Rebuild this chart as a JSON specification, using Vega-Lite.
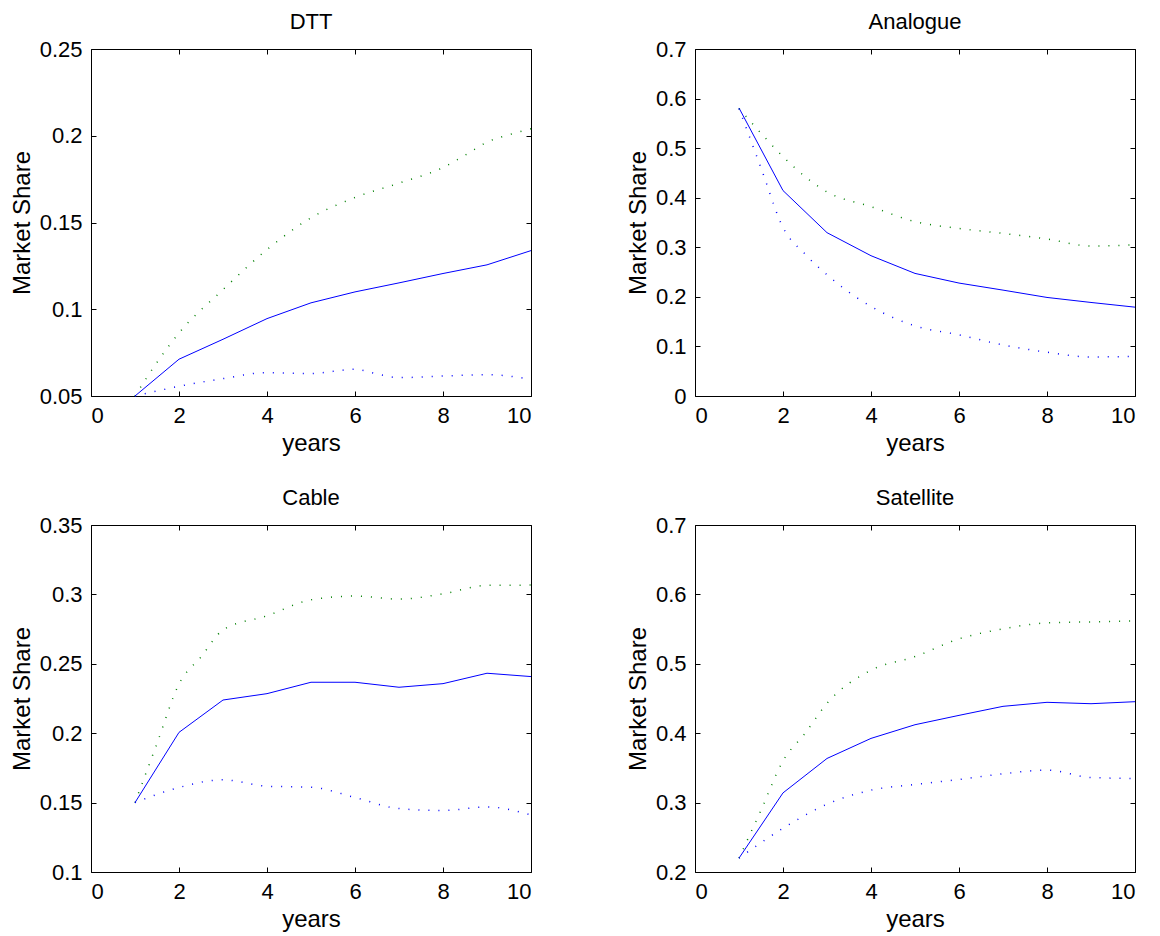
{
  "$schema": "https://vega.github.io/schema/vega-lite/v6.json",
  "padding": {"left": 9, "top": 10, "right": 5, "bottom": 5},
  "background": "white",
  "config": {
    "view": {"stroke": "black", "strokeWidth": 1},
    "axis": {"domain": false, "grid": false, "tickColor": "black", "tickSize": -5, "labelPadding": 14, "labelFontSize": 22, "titleFontSize": 24, "labelFont": "Liberation Sans", "titleFont": "Liberation Sans", "labelColor": "black", "titleColor": "black", "titleFontWeight": "normal", "titlePadding": 5},
    "title": {"fontSize": 22, "font": "Liberation Sans", "fontWeight": "normal", "color": "black", "offset": 4}
  },
  "data": {"values": [
    {"panel": "DTT", "series": "mean", "year": 1, "share": 0.05},
    {"panel": "DTT", "series": "mean", "year": 2, "share": 0.0712},
    {"panel": "DTT", "series": "mean", "year": 3, "share": 0.0827},
    {"panel": "DTT", "series": "mean", "year": 4, "share": 0.0946},
    {"panel": "DTT", "series": "mean", "year": 5, "share": 0.1037},
    {"panel": "DTT", "series": "mean", "year": 6, "share": 0.110},
    {"panel": "DTT", "series": "mean", "year": 7, "share": 0.1152},
    {"panel": "DTT", "series": "mean", "year": 8, "share": 0.1206},
    {"panel": "DTT", "series": "mean", "year": 9, "share": 0.1256},
    {"panel": "DTT", "series": "mean", "year": 10, "share": 0.1338},
    {"panel": "DTT", "series": "upper", "year": 1, "share": 0.05},
    {"panel": "DTT", "series": "upper", "year": 1.5, "share": 0.0694},
    {"panel": "DTT", "series": "upper", "year": 2, "share": 0.0863},
    {"panel": "DTT", "series": "upper", "year": 3, "share": 0.1113},
    {"panel": "DTT", "series": "upper", "year": 4, "share": 0.1344},
    {"panel": "DTT", "series": "upper", "year": 5, "share": 0.1527},
    {"panel": "DTT", "series": "upper", "year": 6, "share": 0.1644},
    {"panel": "DTT", "series": "upper", "year": 7, "share": 0.1727},
    {"panel": "DTT", "series": "upper", "year": 8, "share": 0.1817},
    {"panel": "DTT", "series": "upper", "year": 8.5, "share": 0.1888},
    {"panel": "DTT", "series": "upper", "year": 9, "share": 0.1963},
    {"panel": "DTT", "series": "upper", "year": 9.5, "share": 0.2006},
    {"panel": "DTT", "series": "upper", "year": 10, "share": 0.2040},
    {"panel": "DTT", "series": "lower", "year": 1, "share": 0.05},
    {"panel": "DTT", "series": "lower", "year": 1.5, "share": 0.0529},
    {"panel": "DTT", "series": "lower", "year": 2, "share": 0.0556},
    {"panel": "DTT", "series": "lower", "year": 3, "share": 0.0600},
    {"panel": "DTT", "series": "lower", "year": 4, "share": 0.0635},
    {"panel": "DTT", "series": "lower", "year": 5, "share": 0.0629},
    {"panel": "DTT", "series": "lower", "year": 5.5, "share": 0.0642},
    {"panel": "DTT", "series": "lower", "year": 6, "share": 0.0654},
    {"panel": "DTT", "series": "lower", "year": 6.5, "share": 0.0627},
    {"panel": "DTT", "series": "lower", "year": 7, "share": 0.0606},
    {"panel": "DTT", "series": "lower", "year": 8, "share": 0.0615},
    {"panel": "DTT", "series": "lower", "year": 9, "share": 0.0623},
    {"panel": "DTT", "series": "lower", "year": 10, "share": 0.0596},
    {"panel": "Analogue", "series": "mean", "year": 1, "share": 0.581},
    {"panel": "Analogue", "series": "mean", "year": 2, "share": 0.4144},
    {"panel": "Analogue", "series": "mean", "year": 3, "share": 0.3295},
    {"panel": "Analogue", "series": "mean", "year": 4, "share": 0.283},
    {"panel": "Analogue", "series": "mean", "year": 5, "share": 0.2473},
    {"panel": "Analogue", "series": "mean", "year": 6, "share": 0.2278},
    {"panel": "Analogue", "series": "mean", "year": 7, "share": 0.2136},
    {"panel": "Analogue", "series": "mean", "year": 8, "share": 0.1988},
    {"panel": "Analogue", "series": "mean", "year": 9, "share": 0.1887},
    {"panel": "Analogue", "series": "mean", "year": 10, "share": 0.1792},
    {"panel": "Analogue", "series": "upper", "year": 1, "share": 0.58},
    {"panel": "Analogue", "series": "upper", "year": 1.5, "share": 0.530},
    {"panel": "Analogue", "series": "upper", "year": 2, "share": 0.483},
    {"panel": "Analogue", "series": "upper", "year": 2.5, "share": 0.4427},
    {"panel": "Analogue", "series": "upper", "year": 3, "share": 0.4117},
    {"panel": "Analogue", "series": "upper", "year": 4, "share": 0.382},
    {"panel": "Analogue", "series": "upper", "year": 5, "share": 0.3518},
    {"panel": "Analogue", "series": "upper", "year": 6, "share": 0.338},
    {"panel": "Analogue", "series": "upper", "year": 7, "share": 0.328},
    {"panel": "Analogue", "series": "upper", "year": 8, "share": 0.3167},
    {"panel": "Analogue", "series": "upper", "year": 9, "share": 0.3026},
    {"panel": "Analogue", "series": "upper", "year": 10, "share": 0.305},
    {"panel": "Analogue", "series": "lower", "year": 1, "share": 0.58},
    {"panel": "Analogue", "series": "lower", "year": 1.5, "share": 0.460},
    {"panel": "Analogue", "series": "lower", "year": 2, "share": 0.340},
    {"panel": "Analogue", "series": "lower", "year": 2.5, "share": 0.2864},
    {"panel": "Analogue", "series": "lower", "year": 3, "share": 0.2446},
    {"panel": "Analogue", "series": "lower", "year": 4, "share": 0.1806},
    {"panel": "Analogue", "series": "lower", "year": 5, "share": 0.1415},
    {"panel": "Analogue", "series": "lower", "year": 6, "share": 0.1233},
    {"panel": "Analogue", "series": "lower", "year": 7, "share": 0.103},
    {"panel": "Analogue", "series": "lower", "year": 8, "share": 0.0883},
    {"panel": "Analogue", "series": "lower", "year": 9, "share": 0.0788},
    {"panel": "Analogue", "series": "lower", "year": 10, "share": 0.080},
    {"panel": "Cable", "series": "mean", "year": 1, "share": 0.15},
    {"panel": "Cable", "series": "mean", "year": 2, "share": 0.2006},
    {"panel": "Cable", "series": "mean", "year": 3, "share": 0.2239},
    {"panel": "Cable", "series": "mean", "year": 4, "share": 0.2285},
    {"panel": "Cable", "series": "mean", "year": 5, "share": 0.2367},
    {"panel": "Cable", "series": "mean", "year": 6, "share": 0.2367},
    {"panel": "Cable", "series": "mean", "year": 7, "share": 0.2331},
    {"panel": "Cable", "series": "mean", "year": 8, "share": 0.2357},
    {"panel": "Cable", "series": "mean", "year": 9, "share": 0.2432},
    {"panel": "Cable", "series": "mean", "year": 10, "share": 0.2408},
    {"panel": "Cable", "series": "upper", "year": 1, "share": 0.15},
    {"panel": "Cable", "series": "upper", "year": 1.5, "share": 0.1926},
    {"panel": "Cable", "series": "upper", "year": 2, "share": 0.2355},
    {"panel": "Cable", "series": "upper", "year": 2.5, "share": 0.255},
    {"panel": "Cable", "series": "upper", "year": 3, "share": 0.2744},
    {"panel": "Cable", "series": "upper", "year": 4, "share": 0.2846},
    {"panel": "Cable", "series": "upper", "year": 5, "share": 0.2961},
    {"panel": "Cable", "series": "upper", "year": 6, "share": 0.2988},
    {"panel": "Cable", "series": "upper", "year": 7, "share": 0.2966},
    {"panel": "Cable", "series": "upper", "year": 8, "share": 0.3004},
    {"panel": "Cable", "series": "upper", "year": 9, "share": 0.3065},
    {"panel": "Cable", "series": "upper", "year": 10, "share": 0.3067},
    {"panel": "Cable", "series": "lower", "year": 1, "share": 0.15},
    {"panel": "Cable", "series": "lower", "year": 2, "share": 0.1609},
    {"panel": "Cable", "series": "lower", "year": 3, "share": 0.1664},
    {"panel": "Cable", "series": "lower", "year": 4, "share": 0.1618},
    {"panel": "Cable", "series": "lower", "year": 5, "share": 0.1611},
    {"panel": "Cable", "series": "lower", "year": 6, "share": 0.1537},
    {"panel": "Cable", "series": "lower", "year": 7, "share": 0.1457},
    {"panel": "Cable", "series": "lower", "year": 8, "share": 0.1443},
    {"panel": "Cable", "series": "lower", "year": 9, "share": 0.1469},
    {"panel": "Cable", "series": "lower", "year": 10, "share": 0.1411},
    {"panel": "Satellite", "series": "mean", "year": 1, "share": 0.22},
    {"panel": "Satellite", "series": "mean", "year": 2, "share": 0.314},
    {"panel": "Satellite", "series": "mean", "year": 3, "share": 0.3636},
    {"panel": "Satellite", "series": "mean", "year": 4, "share": 0.3925},
    {"panel": "Satellite", "series": "mean", "year": 5, "share": 0.4122},
    {"panel": "Satellite", "series": "mean", "year": 6, "share": 0.4257},
    {"panel": "Satellite", "series": "mean", "year": 7, "share": 0.4387},
    {"panel": "Satellite", "series": "mean", "year": 8, "share": 0.4445},
    {"panel": "Satellite", "series": "mean", "year": 9, "share": 0.4425},
    {"panel": "Satellite", "series": "mean", "year": 10, "share": 0.4454},
    {"panel": "Satellite", "series": "upper", "year": 1, "share": 0.22},
    {"panel": "Satellite", "series": "upper", "year": 1.5, "share": 0.289},
    {"panel": "Satellite", "series": "upper", "year": 2, "share": 0.3602},
    {"panel": "Satellite", "series": "upper", "year": 2.5, "share": 0.3997},
    {"panel": "Satellite", "series": "upper", "year": 3, "share": 0.443},
    {"panel": "Satellite", "series": "upper", "year": 4, "share": 0.4907},
    {"panel": "Satellite", "series": "upper", "year": 5, "share": 0.5104},
    {"panel": "Satellite", "series": "upper", "year": 6, "share": 0.5359},
    {"panel": "Satellite", "series": "upper", "year": 7, "share": 0.5503},
    {"panel": "Satellite", "series": "upper", "year": 8, "share": 0.559},
    {"panel": "Satellite", "series": "upper", "year": 9, "share": 0.5604},
    {"panel": "Satellite", "series": "upper", "year": 10, "share": 0.5619},
    {"panel": "Satellite", "series": "lower", "year": 1, "share": 0.22},
    {"panel": "Satellite", "series": "lower", "year": 2, "share": 0.263},
    {"panel": "Satellite", "series": "lower", "year": 3, "share": 0.2977},
    {"panel": "Satellite", "series": "lower", "year": 4, "share": 0.3179},
    {"panel": "Satellite", "series": "lower", "year": 5, "share": 0.3261},
    {"panel": "Satellite", "series": "lower", "year": 6, "share": 0.3333},
    {"panel": "Satellite", "series": "lower", "year": 7, "share": 0.3415},
    {"panel": "Satellite", "series": "lower", "year": 8, "share": 0.3468},
    {"panel": "Satellite", "series": "lower", "year": 9, "share": 0.3362},
    {"panel": "Satellite", "series": "lower", "year": 10, "share": 0.3347}
  ]},
  "columns": 2,
  "spacing": {"row": 129, "column": 164},
  "bounds": "flush",
  "concat": [
    {
      "title": "DTT", "width": 440, "height": 347,
      "transform": [{"filter": "datum.panel === 'DTT'"}],
      "layer": [
        {"transform": [{"filter": "datum.series === 'mean'"}],
         "mark": {"type": "line", "color": "#0000ff", "strokeWidth": 1},
         "encoding": {
           "x": {"field": "year", "type": "quantitative", "scale": {"domain": [0, 10], "nice": false}, "axis": {"orient": "bottom", "values": [0, 2, 4, 6, 8, 10], "title": "years"}},
           "y": {"field": "share", "type": "quantitative", "scale": {"domain": [0.05, 0.25], "nice": false, "zero": false}, "axis": {"orient": "left", "values": [0.05, 0.1, 0.15, 0.2, 0.25], "format": ".2~f", "title": "Market Share"}}}},
        {"transform": [{"filter": "datum.series === 'upper'"}],
         "mark": {"type": "line", "color": "#008000", "strokeWidth": 1.5, "strokeDash": [1, 9], "interpolate": "monotone"},
         "encoding": {
           "x": {"field": "year", "type": "quantitative", "axis": {"orient": "top", "values": [0, 2, 4, 6, 8, 10], "labels": false, "title": null}},
           "y": {"field": "share", "type": "quantitative", "axis": {"orient": "right", "values": [0.05, 0.1, 0.15, 0.2, 0.25], "labels": false, "title": null}}}},
        {"transform": [{"filter": "datum.series === 'lower'"}],
         "mark": {"type": "line", "color": "#0000ff", "strokeWidth": 1.5, "strokeDash": [1, 9], "interpolate": "monotone"},
         "encoding": {
           "x": {"field": "year", "type": "quantitative", "axis": null},
           "y": {"field": "share", "type": "quantitative", "axis": null}}}
      ],
      "resolve": {"axis": {"x": "independent", "y": "independent"}}
    },
    {
      "title": "Analogue", "width": 440, "height": 347,
      "transform": [{"filter": "datum.panel === 'Analogue'"}],
      "layer": [
        {"transform": [{"filter": "datum.series === 'mean'"}],
         "mark": {"type": "line", "color": "#0000ff", "strokeWidth": 1},
         "encoding": {
           "x": {"field": "year", "type": "quantitative", "scale": {"domain": [0, 10], "nice": false}, "axis": {"orient": "bottom", "values": [0, 2, 4, 6, 8, 10], "title": "years"}},
           "y": {"field": "share", "type": "quantitative", "scale": {"domain": [0, 0.7], "nice": false, "zero": false}, "axis": {"orient": "left", "values": [0, 0.1, 0.2, 0.3, 0.4, 0.5, 0.6, 0.7], "format": ".2~f", "title": "Market Share"}}}},
        {"transform": [{"filter": "datum.series === 'upper'"}],
         "mark": {"type": "line", "color": "#008000", "strokeWidth": 1.5, "strokeDash": [1, 9], "interpolate": "monotone"},
         "encoding": {
           "x": {"field": "year", "type": "quantitative", "axis": {"orient": "top", "values": [0, 2, 4, 6, 8, 10], "labels": false, "title": null}},
           "y": {"field": "share", "type": "quantitative", "axis": {"orient": "right", "values": [0, 0.1, 0.2, 0.3, 0.4, 0.5, 0.6, 0.7], "labels": false, "title": null}}}},
        {"transform": [{"filter": "datum.series === 'lower'"}],
         "mark": {"type": "line", "color": "#0000ff", "strokeWidth": 1.5, "strokeDash": [1, 9], "interpolate": "monotone"},
         "encoding": {
           "x": {"field": "year", "type": "quantitative", "axis": null},
           "y": {"field": "share", "type": "quantitative", "axis": null}}}
      ],
      "resolve": {"axis": {"x": "independent", "y": "independent"}}
    },
    {
      "title": "Cable", "width": 440, "height": 347,
      "transform": [{"filter": "datum.panel === 'Cable'"}],
      "layer": [
        {"transform": [{"filter": "datum.series === 'mean'"}],
         "mark": {"type": "line", "color": "#0000ff", "strokeWidth": 1},
         "encoding": {
           "x": {"field": "year", "type": "quantitative", "scale": {"domain": [0, 10], "nice": false}, "axis": {"orient": "bottom", "values": [0, 2, 4, 6, 8, 10], "title": "years"}},
           "y": {"field": "share", "type": "quantitative", "scale": {"domain": [0.1, 0.35], "nice": false, "zero": false}, "axis": {"orient": "left", "values": [0.1, 0.15, 0.2, 0.25, 0.3, 0.35], "format": ".2~f", "title": "Market Share"}}}},
        {"transform": [{"filter": "datum.series === 'upper'"}],
         "mark": {"type": "line", "color": "#008000", "strokeWidth": 1.5, "strokeDash": [1, 9], "interpolate": "monotone"},
         "encoding": {
           "x": {"field": "year", "type": "quantitative", "axis": {"orient": "top", "values": [0, 2, 4, 6, 8, 10], "labels": false, "title": null}},
           "y": {"field": "share", "type": "quantitative", "axis": {"orient": "right", "values": [0.1, 0.15, 0.2, 0.25, 0.3, 0.35], "labels": false, "title": null}}}},
        {"transform": [{"filter": "datum.series === 'lower'"}],
         "mark": {"type": "line", "color": "#0000ff", "strokeWidth": 1.5, "strokeDash": [1, 9], "interpolate": "monotone"},
         "encoding": {
           "x": {"field": "year", "type": "quantitative", "axis": null},
           "y": {"field": "share", "type": "quantitative", "axis": null}}}
      ],
      "resolve": {"axis": {"x": "independent", "y": "independent"}}
    },
    {
      "title": "Satellite", "width": 440, "height": 347,
      "transform": [{"filter": "datum.panel === 'Satellite'"}],
      "layer": [
        {"transform": [{"filter": "datum.series === 'mean'"}],
         "mark": {"type": "line", "color": "#0000ff", "strokeWidth": 1},
         "encoding": {
           "x": {"field": "year", "type": "quantitative", "scale": {"domain": [0, 10], "nice": false}, "axis": {"orient": "bottom", "values": [0, 2, 4, 6, 8, 10], "title": "years"}},
           "y": {"field": "share", "type": "quantitative", "scale": {"domain": [0.2, 0.7], "nice": false, "zero": false}, "axis": {"orient": "left", "values": [0.2, 0.3, 0.4, 0.5, 0.6, 0.7], "format": ".2~f", "title": "Market Share"}}}},
        {"transform": [{"filter": "datum.series === 'upper'"}],
         "mark": {"type": "line", "color": "#008000", "strokeWidth": 1.5, "strokeDash": [1, 9], "interpolate": "monotone"},
         "encoding": {
           "x": {"field": "year", "type": "quantitative", "axis": {"orient": "top", "values": [0, 2, 4, 6, 8, 10], "labels": false, "title": null}},
           "y": {"field": "share", "type": "quantitative", "axis": {"orient": "right", "values": [0.2, 0.3, 0.4, 0.5, 0.6, 0.7], "labels": false, "title": null}}}},
        {"transform": [{"filter": "datum.series === 'lower'"}],
         "mark": {"type": "line", "color": "#0000ff", "strokeWidth": 1.5, "strokeDash": [1, 9], "interpolate": "monotone"},
         "encoding": {
           "x": {"field": "year", "type": "quantitative", "axis": null},
           "y": {"field": "share", "type": "quantitative", "axis": null}}}
      ],
      "resolve": {"axis": {"x": "independent", "y": "independent"}}
    }
  ]
}
